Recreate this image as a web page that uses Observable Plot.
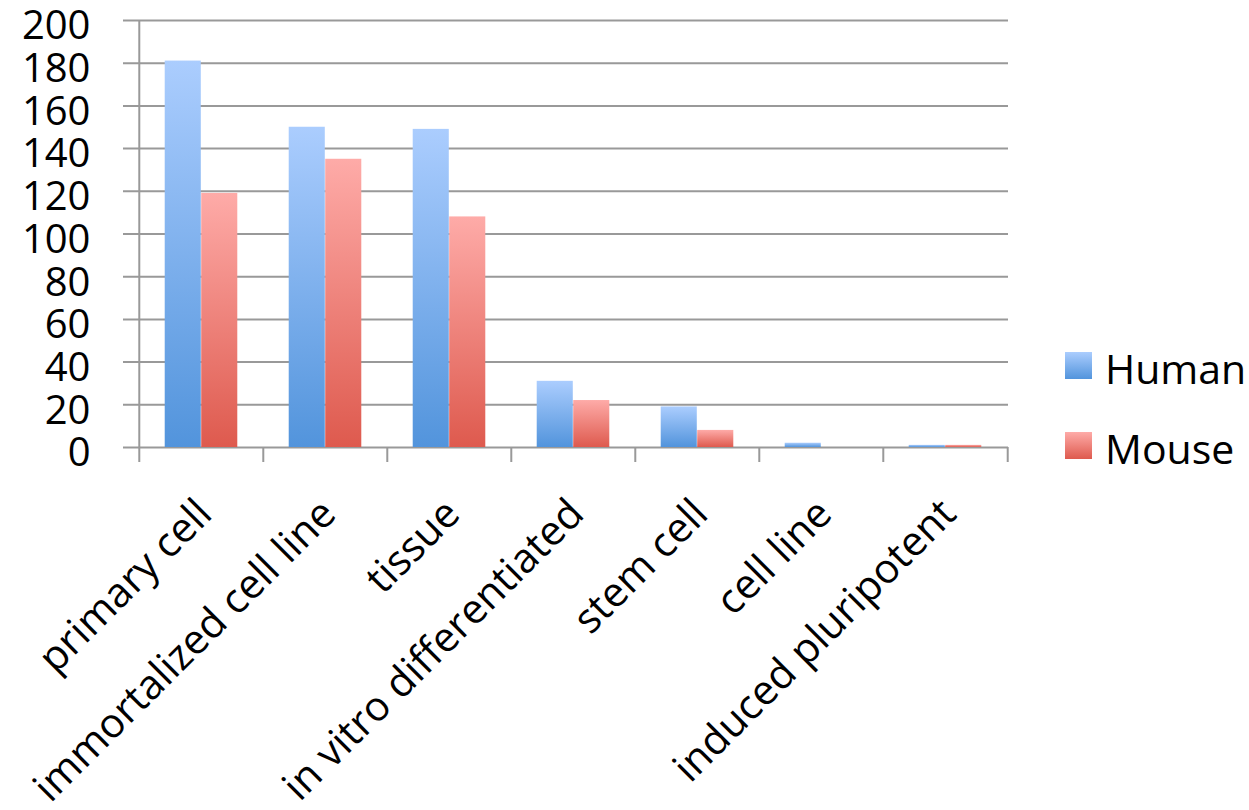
<!DOCTYPE html>
<html>
<head>
<meta charset="utf-8">
<script src="https://cdn.jsdelivr.net/npm/d3@7"></script>
<script src="https://cdn.jsdelivr.net/npm/@observablehq/plot@0.6"></script>
<style>
  html, body { margin: 0; padding: 0; background: #fff; }
  svg { display: block; }
</style>
</head>
<body>
<div id="chart"></div>
<script>
// Sample counts per biosample type, by species
const categories = [
  "primary cell",
  "immortalized cell line",
  "tissue",
  "in vitro differentiated",
  "stem cell",
  "cell line",
  "induced pluripotent"
];
const seriesNames = ["Human", "Mouse"];
const human = [181, 150, 149, 31, 19, 2, 1];
const mouse = [119, 135, 108, 22, 8, 0, 1];
const yTicks = [0, 20, 40, 60, 80, 100, 120, 140, 160, 180, 200];

const rows = categories.map((c, i) => ({category: c, Human: human[i], Mouse: mouse[i]}));

const width = 1249, height = 810;
const margin = {left: 137, right: 241, top: 20, bottom: 363};
const band = (width - margin.left - margin.right) / categories.length;
const barW = 36.5;
const sidePad = (band - 2 * barW) / 2;
const grid = "#999999";
const font = "Open Sans";

const chart = Plot.plot({
  width, height,
  marginLeft: margin.left, marginRight: margin.right,
  marginTop: margin.top, marginBottom: margin.bottom,
  style: {fontFamily: font, fontSize: "40px", color: "#000", background: "#fff", overflow: "visible"},
  x: {domain: categories, padding: 0, axis: null},
  y: {domain: [0, 200], axis: null},
  marks: [
    // horizontal gridlines with the small outer tick on the left
    Plot.ruleY(yTicks, {y: d => d, stroke: grid, strokeWidth: 2, insetLeft: -14}),
    // left axis line
    Plot.ruleX([categories[0]], {x: d => d, dx: -band / 2, stroke: grid, strokeWidth: 2, insetBottom: -15}),
    // category boundary ticks below the baseline
    Plot.ruleX(categories.slice(1), {x: d => d, dx: -band / 2, stroke: grid, strokeWidth: 2, insetTop: height - margin.top - margin.bottom, insetBottom: -15}),
    Plot.ruleX([categories[categories.length - 1]], {x: d => d, dx: band / 2, stroke: grid, strokeWidth: 2, insetTop: height - margin.top - margin.bottom, insetBottom: -15}),
    // bars
    Plot.barY(rows, {x: "category", y: "Human", fill: "url(#grad-human)",
      insetLeft: sidePad, insetRight: band - sidePad - barW, ariaLabel: "human-bars"}),
    Plot.barY(rows, {x: "category", y: "Mouse", fill: "url(#grad-mouse)",
      insetLeft: sidePad + barW, insetRight: sidePad, ariaLabel: "mouse-bars"}),
    // y tick labels
    Plot.text(yTicks, {y: d => d, text: d => String(d), frameAnchor: "left", textAnchor: "end",
      dx: -47, dy: 6, fontSize: 40, fill: "#000"}),
    // rotated category labels
    Plot.text(categories, {x: d => d, text: d => d, frameAnchor: "bottom", rotate: -45,
      textAnchor: "end", lineAnchor: "top", dx: -8, dy: 48, fontSize: 41, fill: "#000"})
  ]
});

const svg = d3.select(chart);
const defs = svg.insert("defs", ":first-child");
function gradient(id, top, bottom) {
  const g = defs.append("linearGradient").attr("id", id)
    .attr("x1", 0).attr("y1", 0).attr("x2", 0).attr("y2", 1);
  g.append("stop").attr("offset", "0%").attr("stop-color", top);
  g.append("stop").attr("offset", "100%").attr("stop-color", bottom);
}
gradient("grad-human", "#abcdfe", "#5294dc");
gradient("grad-mouse", "#feaba8", "#de5a4e");
const shadow = defs.append("filter").attr("id", "bar-shadow")
  .attr("x", "-20%").attr("y", "-20%").attr("width", "140%").attr("height", "140%");
shadow.append("feDropShadow").attr("dx", 2).attr("dy", 2).attr("stdDeviation", 2.5)
  .attr("flood-color", "#000").attr("flood-opacity", 0.22);
svg.selectAll('g[aria-label="human-bars"], g[aria-label="mouse-bars"]').attr("filter", "url(#bar-shadow)");

// legend
const legend = svg.append("g").attr("font-family", font).attr("font-size", 41).attr("text-anchor", "start");
const gradIds = {Human: "grad-human", Mouse: "grad-mouse"};
seriesNames.forEach((name, i) => {
  const y0 = 352 + i * 80;
  legend.append("rect").attr("x", 1065).attr("y", y0).attr("width", 27).attr("height", 27)
    .attr("fill", `url(#${gradIds[name]})`);
  legend.append("text").attr("x", 1105).attr("y", y0 + 32).attr("fill", "#000").text(name);
});

document.getElementById("chart").appendChild(chart);
</script>
</body>
</html>
